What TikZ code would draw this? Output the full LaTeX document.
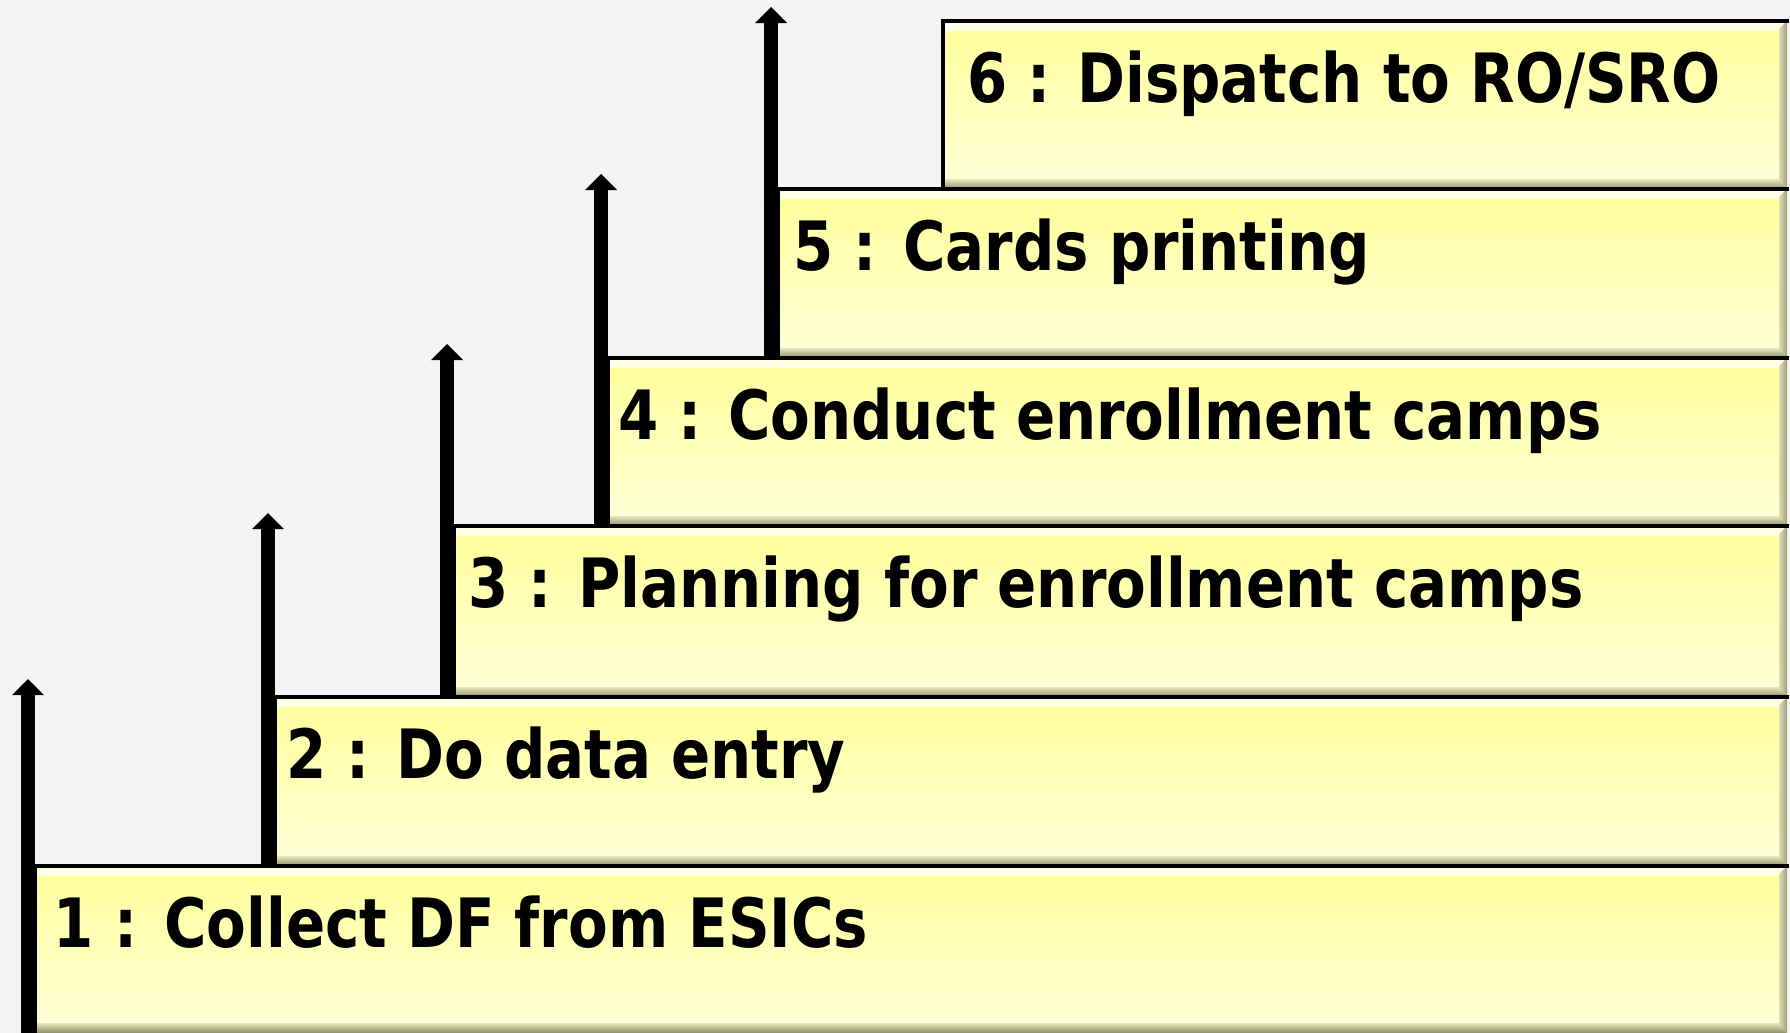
\documentclass[tikz,border=0pt]{standalone}
\usepackage{fontspec}
\newfontfamily\boxfont{DejaVu Sans}[FakeStretch=0.85]
\usetikzlibrary{arrows.meta}
\definecolor{bgcol}{HTML}{F4F4F4}
\definecolor{ylTop}{HTML}{FFFF99}
\definecolor{ylBot}{HTML}{FFFFDA}
\definecolor{hiTop}{HTML}{FFFFE6}
\definecolor{shTop}{HTML}{E8E8BA}
\definecolor{shBot}{HTML}{8C8C6A}
\definecolor{rtL}{HTML}{DEDEB2}
\definecolor{rtR}{HTML}{9E9E7E}
\begin{document}
\begin{tikzpicture}[x=0.5pt,y=-0.5pt,
  stepbox/.style={rectangle, inner sep=0pt, outer sep=0pt, anchor=north west,
    top color=ylTop, bottom color=ylBot,
    path picture={
      \shade[top color=hiTop, bottom color=ylTop]
        (path picture bounding box.north west) -- (path picture bounding box.north east)
        -- ([shift={(-4pt,-5pt)}]path picture bounding box.north east)
        -- ([shift={(0pt,-5pt)}]path picture bounding box.north west) -- cycle;
      \shade[top color=shTop, bottom color=shBot]
        ([shift={(0pt,5pt)}]path picture bounding box.south west)
        -- ([shift={(-4pt,5pt)}]path picture bounding box.south east)
        -- (path picture bounding box.south east)
        -- (path picture bounding box.south west) -- cycle;
      \shade[left color=rtL, right color=rtR]
        ([shift={(-4pt,-4pt)}]path picture bounding box.north east)
        -- (path picture bounding box.north east)
        -- (path picture bounding box.south east)
        -- ([shift={(-4pt,5pt)}]path picture bounding box.south east) -- cycle;
    }},
  boxedge/.style={draw=black, line width=1.6pt, line cap=rect},
  steptext/.style={anchor=base west, inner sep=0pt, outer sep=0pt, text=black,
    font=\boxfont\bfseries\fontsize{34}{40}\selectfont},
  steparrow/.style={draw=black, line width=7pt,
    -{Triangle[width=16pt,length=8pt,line width=0pt]}}]

\fill[bgcol] (0,0) rectangle (1790,1033);
\useasboundingbox (0,0) rectangle (1790,1033);

% boxes
\node[stepbox, minimum width=876pt,   minimum height=83.5pt] (b1) at (35,866) {};
\node[stepbox, minimum width=756pt,   minimum height=84.5pt] (b2) at (275,697) {};
\node[stepbox, minimum width=666.5pt, minimum height=85.5pt] (b3) at (454,526) {};
\node[stepbox, minimum width=589.5pt, minimum height=84pt]   (b4) at (608,358) {};
\node[stepbox, minimum width=504.5pt, minimum height=84.5pt] (b5) at (778,189) {};
\node[stepbox, minimum width=422pt,   minimum height=84pt]   (b6) at (943,21) {};

% box edges (top and left)
\foreach \b in {b1,b2,b3,b4,b5,b6}
  \draw[boxedge] (\b.south west) -- (\b.north west) -- (\b.north east);

% texts
\node[steptext] (t1) at (54,947)  {1 : Collect DF from ESICs};
\node[steptext] (t2) at (286,778) {2 : Do data entry};
\node[steptext] (t3) at (468,607) {3 : Planning for enrollment camps};
\node[steptext] (t4) at (618,439) {4 : Conduct enrollment camps};
\node[steptext] (t5) at (793,270) {5 : Cards printing};
\node[steptext] (t6) at (967,102) {6 : Dispatch to RO/SRO};

% arrows
\coordinate (a1s) at (28,1033); \coordinate (a1e) at (28,679);
\coordinate (a2s) at (268,866); \coordinate (a2e) at (268,513);
\coordinate (a3s) at (447,697); \coordinate (a3e) at (447,344);
\coordinate (a4s) at (601,526); \coordinate (a4e) at (601,174);
\coordinate (a5s) at (771,358); \coordinate (a5e) at (771,7);
\draw[steparrow] (a1s) -- (a1e);
\draw[steparrow] (a2s) -- (a2e);
\draw[steparrow] (a3s) -- (a3e);
\draw[steparrow] (a4s) -- (a4e);
\draw[steparrow] (a5s) -- (a5e);
\end{tikzpicture}
\end{document}
